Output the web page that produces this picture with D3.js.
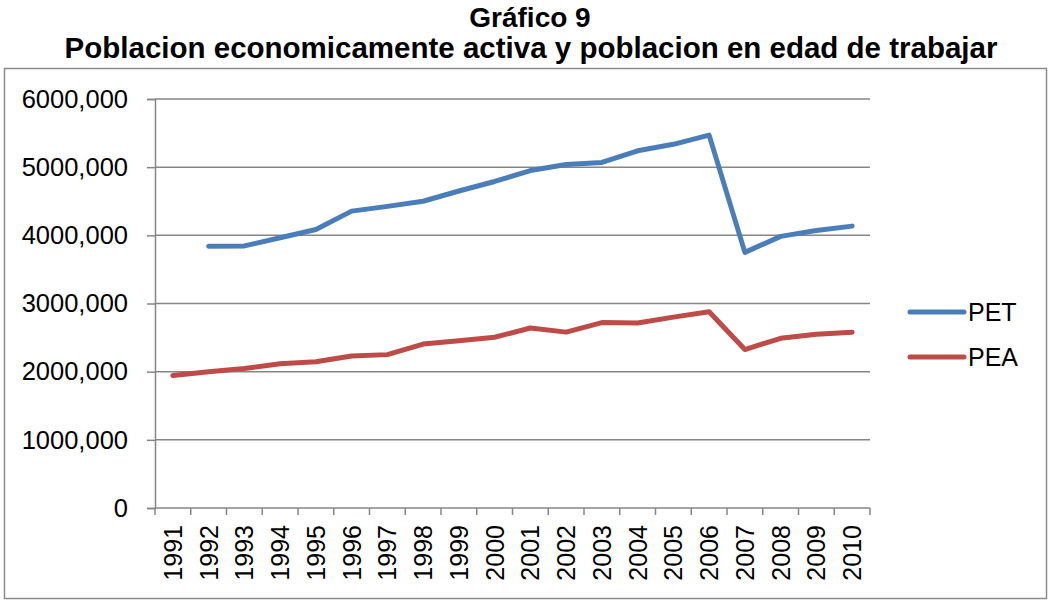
<!DOCTYPE html>
<html>
<head>
<meta charset="utf-8">
<script src="https://cdn.jsdelivr.net/npm/d3@7"></script>
<style>
  body { margin: 0; background: #fff; }
  text { font-family: "Liberation Sans", Arial, sans-serif; }
</style>
</head>
<body>
<script>
// datos (miles de personas)
const years = ["1991","1992","1993","1994","1995","1996","1997","1998","1999","2000",
  "2001","2002","2003","2004","2005","2006","2007","2008","2009","2010"];
const pet = [null, 3840, 3845, 3965, 4085, 4355, 4425, 4500, 4650, 4790,
  4950, 5040, 5070, 5240, 5335, 5470, 3750, 3985, 4070, 4135];
const pea = [1945, 2000, 2045, 2115, 2145, 2230, 2250, 2405, 2455, 2505,
  2640, 2580, 2720, 2715, 2800, 2880, 2325, 2490, 2550, 2580];
const yTicks = [0, 1000, 2000, 3000, 4000, 5000, 6000];

const series = [
  {name: "PET", values: pet, color: "#4a7ebb"},
  {name: "PEA", values: pea, color: "#be4b48"}
];

const W = 1048, H = 600;
const svg = d3.select("body").append("svg")
  .attr("width", W)
  .attr("height", H);

// marco
svg.append("rect")
  .attr("x", 4.5).attr("y", 68.5)
  .attr("width", 1042).attr("height", 530)
  .attr("fill", "none")
  .attr("stroke", "#8c8c8c")
  .attr("stroke-width", 1.5);

// titulo
svg.append("text")
  .attr("x", 530).attr("y", 27)
  .attr("text-anchor", "middle")
  .style("font-size", "28px").style("font-weight", "bold")
  .text("Gráfico 9");
svg.append("text")
  .attr("x", 531).attr("y", 58)
  .attr("text-anchor", "middle")
  .style("font-size", "29.5px").style("font-weight", "bold")
  .text("Poblacion economicamente activa y poblacion en edad de trabajar");

const pLeft = 155, pRight = 870, pTop = 99, pBottom = 508;

const x = d3.scaleBand().domain(years).range([pLeft, pRight]);
const y = d3.scaleLinear().domain([0, 6000]).range([pBottom, pTop]);

const fmt = d => d === 0 ? "0" : d3.format(".3f")(d).replace(".", ",");

// lineas de cuadricula
svg.append("g")
  .selectAll("line")
  .data(yTicks.filter(d => d > 0))
  .join("line")
  .attr("x1", pLeft).attr("x2", pRight)
  .attr("y1", d => y(d)).attr("y2", d => y(d))
  .attr("stroke", "#868686")
  .attr("stroke-width", 1.5);

// eje y
const yAxis = svg.append("g")
  .attr("transform", `translate(${pLeft},0)`)
  .call(d3.axisLeft(y).tickValues(yTicks).tickFormat(fmt).tickSize(8).tickPadding(19));
yAxis.select(".domain").attr("stroke", "#868686").attr("stroke-width", 1.5);
yAxis.selectAll(".tick line").attr("stroke", "#868686").attr("stroke-width", 1.5);
yAxis.selectAll("text").style("font-size", "25.5px").attr("fill", "#000")
  .style("font-family", "'Liberation Sans', Arial, sans-serif");

// eje x
const xTickPos = years.map(d => x(d)).concat([pRight]);
const xg = svg.append("g");
xg.append("line")
  .attr("x1", pLeft).attr("x2", pRight)
  .attr("y1", pBottom).attr("y2", pBottom)
  .attr("stroke", "#868686").attr("stroke-width", 1.5);
xg.selectAll("line.tk")
  .data(xTickPos)
  .join("line")
  .attr("class", "tk")
  .attr("x1", d => d).attr("x2", d => d)
  .attr("y1", pBottom).attr("y2", pBottom + 7)
  .attr("stroke", "#868686").attr("stroke-width", 1.5);
xg.selectAll("text")
  .data(years)
  .join("text")
  .attr("transform", d => `translate(${x(d) + x.bandwidth() / 2 + 9},525) rotate(-90)`)
  .attr("text-anchor", "end")
  .style("font-size", "25px")
  .text(d => d);

// series
const line = d3.line()
  .defined(d => d != null)
  .x((d, i) => x(years[i]) + x.bandwidth() / 2)
  .y(d => y(d));

svg.append("g")
  .selectAll("path")
  .data(series)
  .join("path")
  .attr("d", d => line(d.values))
  .attr("fill", "none")
  .attr("stroke", d => d.color)
  .attr("stroke-width", 5)
  .attr("stroke-linecap", "round")
  .attr("stroke-linejoin", "round");

// leyenda
const lg = svg.append("g")
  .selectAll("g")
  .data(series)
  .join("g")
  .attr("transform", (d, i) => `translate(910,${312 + i * 45})`);
lg.append("line")
  .attr("x1", 0).attr("x2", 54)
  .attr("stroke", d => d.color)
  .attr("stroke-width", 5)
  .attr("stroke-linecap", "round");
lg.append("text")
  .attr("x", 58).attr("y", 9)
  .style("font-size", "25px")
  .text(d => d.name);
</script>
</body>
</html>
